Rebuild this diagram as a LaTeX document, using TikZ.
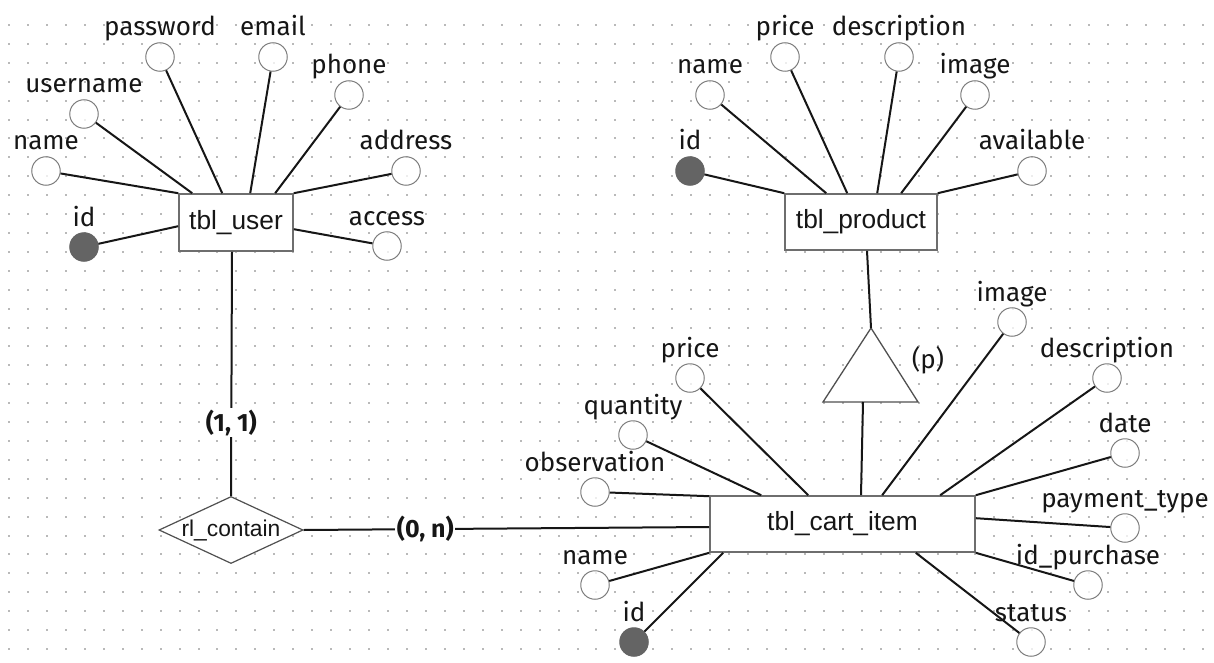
\documentclass[tikz,border=0pt]{standalone}
\usepackage{fontspec}
\usetikzlibrary{shapes.geometric,calc}
\newfontfamily\attrfont{Fira Sans}
\newfontfamily\entfont{Liberation Sans}
\definecolor{dotc}{RGB}{185,185,185}
\definecolor{inkc}{RGB}{22,22,22}
\definecolor{entc}{RGB}{110,110,110}
\definecolor{attrc}{RGB}{125,125,125}
\definecolor{keyc}{RGB}{100,100,100}
\definecolor{shapec}{RGB}{80,80,80}
\tikzset{
  attr/.style={circle, draw=attrc, line width=1, minimum size=28.5, inner sep=0,
    fill=white, fill opacity=0.75},
  keyattr/.style={circle, draw=keyc, fill=keyc, line width=1, minimum size=28.5, inner sep=0},
  lbl/.style={font=\attrfont\fontsize{26}{30}\selectfont, text=inkc, inner sep=0},
  ent/.style={rectangle, draw=entc, line width=1.6, fill=white, inner sep=0,
    font=\entfont\fontsize{26.3}{30}\selectfont, text=inkc},
  relbox/.style={diamond, draw=shapec, line width=1.2, fill=white, inner sep=0,
    aspect=2.15, minimum width=142, minimum height=66,
    font=\entfont\fontsize{22.8}{26}\selectfont, text=inkc},
  link/.style={draw=inkc, line width=2},
  card/.style={font=\attrfont\bfseries\fontsize{25}{29}\selectfont, text=inkc,
    fill=white, inner sep=1.5},
}
\begin{document}
\begin{tikzpicture}[x=1pt, y=-1pt]
% page and dotted grid
\fill[white] (0,0) rectangle (1214,663);
\path[use as bounding box] (0,0) rectangle (1214,663);
\foreach \i in {0,...,63}{
  \foreach \j in {0,...,33}{
    \fill[dotc] ({9+18.95*\i-1},{25+18.91*\j-1}) rectangle +(2,2);
  }
}

% entities and relationship
\node[ent, minimum width=114, minimum height=57] (user) at (236,222.5) {tbl\_user};
\node[ent, minimum width=152, minimum height=56] (prod) at (861,222) {tbl\_product};
\node[ent, minimum width=265, minimum height=56] (cart) at (842.5,524) {tbl\_cart\_item};
\node[relbox] (rel) at (231,530) {rl\_contain};

% attributes of tbl_user
\node[keyattr] (uid) at (84,247) {};
\node[attr] (uname) at (46,171) {};
\node[attr] (uuser) at (84,114) {};
\node[attr] (upass) at (160,57) {};
\node[attr] (umail) at (273,57) {};
\node[attr] (uphone) at (349,95) {};
\node[attr] (uaddr) at (406,171) {};
\node[attr] (uacc) at (387,246) {};
\node[lbl, anchor=base] (luid) at ([yshift=21]uid.center) {id};
\node[lbl, anchor=base] (luname) at ([yshift=21]uname.center) {name};
\node[lbl, anchor=base] (luuser) at ([yshift=21]uuser.center) {username};
\node[lbl, anchor=base] (lupass) at ([yshift=21]upass.center) {password};
\node[lbl, anchor=base] (lumail) at ([yshift=21]umail.center) {email};
\node[lbl, anchor=base] (luphone) at ([yshift=21]uphone.center) {phone};
\node[lbl, anchor=base] (luaddr) at ([yshift=21]uaddr.center) {address};
\node[lbl, anchor=base] (luacc) at ([yshift=21]uacc.center) {access};

% attributes of tbl_product
\node[keyattr] (pid) at (690,171) {};
\node[attr] (pname) at (710,95) {};
\node[attr] (pprice) at (785,57) {};
\node[attr] (pdesc) at (899,57) {};
\node[attr] (pimg) at (975,95) {};
\node[attr] (pavail) at (1032,171) {};
\node[lbl, anchor=base] (lpid) at ([yshift=21]pid.center) {id};
\node[lbl, anchor=base] (lpname) at ([yshift=21]pname.center) {name};
\node[lbl, anchor=base] (lpprice) at ([yshift=21]pprice.center) {price};
\node[lbl, anchor=base] (lpdesc) at ([yshift=21]pdesc.center) {description};
\node[lbl, anchor=base] (lpimg) at ([yshift=21]pimg.center) {image};
\node[lbl, anchor=base] (lpavail) at ([yshift=21]pavail.center) {available};

% attributes of tbl_cart_item
\node[attr] (cobs) at (595,492) {};
\node[attr] (cqty) at (633,435) {};
\node[attr] (cprice) at (690,378) {};
\node[attr] (cimg) at (1012,322) {};
\node[attr] (cdesc) at (1107,378) {};
\node[attr] (cdate) at (1125,453) {};
\node[attr] (cpay) at (1125,528) {};
\node[attr] (cidp) at (1088,585) {};
\node[attr] (cstat) at (1031,642) {};
\node[keyattr] (cid) at (634,642) {};
\node[attr] (cname) at (595,585) {};
\node[lbl, anchor=base] (lcobs) at ([yshift=21]cobs.center) {observation};
\node[lbl, anchor=base] (lcqty) at ([yshift=21]cqty.center) {quantity};
\node[lbl, anchor=base] (lcprice) at ([yshift=21]cprice.center) {price};
\node[lbl, anchor=base] (lcimg) at ([yshift=21]cimg.center) {image};
\node[lbl, anchor=base] (lcdesc) at ([yshift=21]cdesc.center) {description};
\node[lbl, anchor=base] (lcdate) at ([yshift=21]cdate.center) {date};
\node[lbl, anchor=base] (lcpay) at ([yshift=21]cpay.center) {payment\_type};
\node[lbl, anchor=base] (lcidp) at ([yshift=21]cidp.center) {id\_purchase};
\node[lbl, anchor=base] (lcstat) at ([yshift=21]cstat.center) {status};
\node[lbl, anchor=base] (lcid) at ([yshift=21]cid.center) {id};
\node[lbl, anchor=base] (lcname) at ([yshift=21]cname.center) {name};

% specialisation triangle between tbl_product and tbl_cart_item
\coordinate (tapex) at (871,328);
\coordinate (tleft) at (823,402);
\coordinate (tright) at (918,402);
\coordinate (tjoin) at (863,402);
\draw[draw=shapec, line width=1.3, fill=white, line join=miter] (tapex) -- (tright) -- (tleft) -- cycle;
\node[lbl] (tlab) at (928,360) {(p)};
\draw[link] ([xshift=6]prod.south) -- (tapex);
\draw[link] (tjoin) -- ([xshift=18.5]cart.north);

% connectors of tbl_user
\draw[link] (uid) -- ([yshift=-33]user.north west);
\draw[link] (uname) -- (user.north west);
\draw[link] (uuser) -- ([xshift=14]user.north west);
\draw[link] (upass) -- ([xshift=44]user.north west);
\draw[link] (umail) -- ([xshift=72]user.north west);
\draw[link] (uphone) -- ([xshift=97]user.north west);
\draw[link] (uaddr) -- (user.north east);
\draw[link] (uacc) -- ([yshift=-36]user.north east);

% connectors of tbl_product
\draw[link] (pid) -- (prod.north west);
\draw[link] (pname) -- ([xshift=42]prod.north west);
\draw[link] (pprice) -- ([xshift=63]prod.north west);
\draw[link] (pdesc) -- ([xshift=93]prod.north west);
\draw[link] (pimg) -- ([xshift=117]prod.north west);
\draw[link] (pavail) -- (prod.north east);

% connectors of tbl_cart_item
\draw[link] (cobs) -- ([yshift=-1]cart.north west);
\draw[link] (cqty) -- ([xshift=52]cart.north west);
\draw[link] (cprice) -- ([xshift=99]cart.north west);
\draw[link] (cimg) -- ([xshift=173]cart.north west);
\draw[link] (cdesc) -- ([xshift=231]cart.north west);
\draw[link] (cdate) -- (cart.north east);
\draw[link] (cpay) -- ([yshift=-23]cart.north east);
\draw[link] (cidp) -- (cart.south east);
\draw[link] (cstat) -- ([xshift=-60]cart.south east);
\draw[link] (cid) -- ([xshift=14]cart.south west);
\draw[link] (cname) -- (cart.south west);

% relationship with cardinalities
\draw[link] ([xshift=-4]user.south) -- node[card, pos=0.7] (c11) {(1, 1)} (rel.north);
\draw[link] (rel.east) -- node[card, pos=0.3] (c0n) {(0, n)} ([yshift=-3]cart.west);
\end{tikzpicture}
\end{document}
